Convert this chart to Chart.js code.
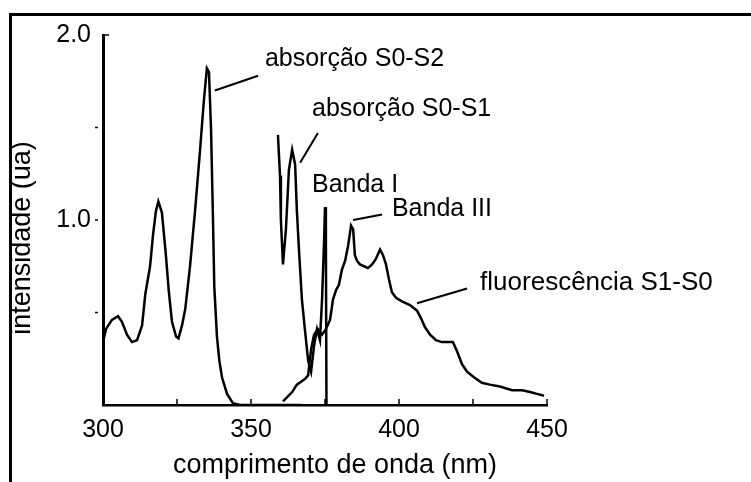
<!DOCTYPE html>
<html>
<head>
<meta charset="utf-8">
<title>Espectro de absorção e fluorescência</title>
<script src="https://cdn.jsdelivr.net/npm/chart.js@4/dist/chart.umd.min.js"></script>
<style>
html, body { margin: 0; padding: 0; background: #fff; }
#chart { display: block; }
</style>
</head>
<body>
<canvas id="chart" width="751" height="482"></canvas>
<script>
// absorção S0-S2 (comprimento de onda em nm, intensidade em ua)
var absS2Wave = [300, 301, 303, 305.1, 306.4, 308.1, 309.8, 311.5, 313.2, 314.3, 315.9, 316.9, 317.9, 318.7, 319.9, 321.2, 322.2, 323.3, 324.7, 325.5, 326.7, 327.8, 329.4, 331.1, 332.8, 334.1, 335.1, 335.8, 336.5, 337.1, 337.6, 338.5, 339.3, 340.2, 341.9, 343.9, 346.3, 367];
var absS2Int = [0.34, 0.41, 0.46, 0.48, 0.45, 0.38, 0.34, 0.35, 0.43, 0.60, 0.75, 0.92, 1.05, 1.10, 1.04, 0.82, 0.62, 0.45, 0.37, 0.36, 0.43, 0.52, 0.75, 1.05, 1.38, 1.65, 1.82, 1.80, 1.49, 1.05, 0.64, 0.37, 0.24, 0.15, 0.06, 0.01, 0, 0];

// absorção S0-S1 (ampliada)
var absS1Wave = [359.1, 359.8, 360.1, 360.8, 361.8, 362.8, 363.9, 364.9, 365.5, 366.2, 367.2, 368.2, 369.3, 370.3, 371.3, 372.3, 373.3, 374.0, 374.7, 375.0, 375.3, 375.5];
var absS1Int = [1.46, 1.24, 1.00, 0.76, 0.95, 1.27, 1.38, 1.30, 1.05, 0.84, 0.57, 0.41, 0.24, 0.18, 0.32, 0.41, 0.35, 0.57, 0.89, 1.07, 0.89, 0];

// fluorescência S1-S0
var fluorWave = [360.8, 363.9, 365.5, 368.2, 369.3, 370.3, 371.3, 372.6, 374.0, 375.3, 376.7, 377.7, 378.7, 379.7, 380.7, 381.8, 382.8, 383.8, 384.5, 385.1, 385.8, 386.8, 388.2, 389.5, 390.9, 392.2, 393.6, 394.6, 395.6, 396.6, 397.6, 399.0, 401.0, 403.7, 406.1, 407.4, 408.8, 410.5, 412.5, 414.5, 416.6, 418.2, 419.6, 421.3, 423.0, 425.3, 428.0, 430.7, 434.1, 438.2, 441.6, 444.3, 446.6, 449.0];
var fluorInt = [0.02, 0.07, 0.11, 0.14, 0.16, 0.30, 0.38, 0.41, 0.38, 0.41, 0.46, 0.57, 0.62, 0.65, 0.73, 0.78, 0.86, 0.97, 0.95, 0.81, 0.78, 0.76, 0.75, 0.74, 0.76, 0.79, 0.84, 0.81, 0.76, 0.68, 0.61, 0.58, 0.56, 0.54, 0.51, 0.47, 0.42, 0.38, 0.35, 0.34, 0.34, 0.34, 0.29, 0.22, 0.18, 0.15, 0.12, 0.11, 0.10, 0.08, 0.08, 0.07, 0.06, 0.05];

var xTickLabels = [300, 350, 400, 450];
var yTickLabels = [1.0, 2.0];
var xMinorTicks = [325, 350, 375, 400, 425, 450];
var yMinorTicks = [0.5, 1.0, 1.5];

var noteTexts = ["absorção S0-S2", "absorção S0-S1", "Banda I", "Banda III", "fluorescência S1-S0"];

var FONT = "'Liberation Sans', Arial, sans-serif";

// where each note sits, in data units (left edge / baseline of the text)
var noteAt = [[354.7, 1.83], [370.6, 1.56], [370.6, 1.15], [397.6, 1.02], [427.4, 0.62]];
// pointer lines from the curve to the note
var pointerFrom = [[337.8, 1.70], [366.6, 1.31], null, [384.5, 1.00], [406.1, 0.55]];
var pointerTo = [[352.4, 1.78], [372.6, 1.47], null, [394.3, 1.03], [423.0, 0.63]];

function toPoints(xs, ys) {
    var pts = [];
    for (var i = 0; i < xs.length; i++) {
        pts.push({x: xs[i], y: ys[i]});
    }
    return pts;
}

function curve(label, xs, ys) {
    return {
        label: label,
        data: toPoints(xs, ys),
        borderColor: "#000",
        borderWidth: 2.5,
        pointRadius: 0,
        tension: 0,
        fill: false
    };
}

// frame, small tick marks, notes and axis titles
var extras = {
    id: "extras",
    afterDraw: function(chart) {
        var ctx = chart.ctx;
        var xs = chart.scales.x;
        var ys = chart.scales.y;
        var i;

        ctx.save();
        ctx.strokeStyle = "#000";
        ctx.fillStyle = "#000";

        // outer frame (top and left only)
        ctx.lineWidth = 3;
        ctx.beginPath();
        ctx.moveTo(10.5, 482);
        ctx.lineTo(10.5, 14.5);
        ctx.lineTo(751, 14.5);
        ctx.stroke();

        // tick marks
        ctx.lineWidth = 1.5;
        ctx.beginPath();
        for (i = 0; i < xMinorTicks.length; i++) {
            var tx = xs.getPixelForValue(xMinorTicks[i]);
            ctx.moveTo(tx, ys.bottom);
            ctx.lineTo(tx, ys.bottom - 6);
        }
        for (i = 0; i < yMinorTicks.length; i++) {
            var ty = ys.getPixelForValue(yMinorTicks[i]);
            ctx.moveTo(xs.left - 8, ty);
            ctx.lineTo(xs.left - 5, ty);
        }
        var topY = ys.getPixelForValue(2.0);
        ctx.moveTo(xs.left, topY);
        ctx.lineTo(xs.left + 6, topY);
        ctx.stroke();

        // pointer lines
        ctx.lineWidth = 2;
        ctx.beginPath();
        for (i = 0; i < pointerFrom.length; i++) {
            if (!pointerFrom[i]) continue;
            ctx.moveTo(xs.getPixelForValue(pointerFrom[i][0]), ys.getPixelForValue(pointerFrom[i][1]));
            ctx.lineTo(xs.getPixelForValue(pointerTo[i][0]), ys.getPixelForValue(pointerTo[i][1]));
        }
        ctx.stroke();

        // notes
        ctx.textAlign = "left";
        ctx.textBaseline = "alphabetic";
        for (i = 0; i < noteTexts.length; i++) {
            ctx.font = (i === 4 ? "26px " : "25px ") + FONT;
            ctx.fillText(noteTexts[i], xs.getPixelForValue(noteAt[i][0]), ys.getPixelForValue(noteAt[i][1]));
        }

        // axis titles
        ctx.font = "27px " + FONT;
        ctx.textAlign = "center";
        ctx.textBaseline = "middle";
        ctx.fillText("comprimento de onda (nm)", 335, 466);
        ctx.translate(23, 238);
        ctx.rotate(-Math.PI / 2);
        ctx.fillText("intensidade (ua)", 0, 0);
        ctx.restore();
    }
};

var chart = new Chart(document.getElementById("chart"), {
    type: "line",
    data: {
        datasets: [
            curve("absorção S0-S2", absS2Wave, absS2Int),
            curve("absorção S0-S1", absS1Wave, absS1Int),
            curve("fluorescência S1-S0", fluorWave, fluorInt)
        ]
    },
    options: {
        responsive: false,
        animation: false,
        devicePixelRatio: 1,
        layout: { padding: { left: 0, right: 204, top: 35, bottom: 0 } },
        plugins: {
            legend: { display: false },
            tooltip: { enabled: false }
        },
        scales: {
            x: {
                type: "linear",
                min: 300,
                max: 450,
                afterFit: function(scale) { scale.height = 77; },
                afterBuildTicks: function(scale) {
                    scale.ticks = xTickLabels.map(function(v) { return {value: v}; });
                },
                grid: { display: false, drawTicks: false },
                border: { display: true, color: "#000", width: 2.5 },
                ticks: {
                    color: "#000",
                    padding: 10,
                    maxRotation: 0,
                    font: { family: FONT, size: 25 },
                    callback: function(v) { return String(v); }
                }
            },
            y: {
                type: "linear",
                min: 0,
                max: 2.0,
                afterFit: function(scale) { scale.width = 103; },
                afterBuildTicks: function(scale) {
                    scale.ticks = yTickLabels.map(function(v) { return {value: v}; });
                },
                grid: { display: false, drawTicks: false },
                border: { display: true, color: "#000", width: 3 },
                ticks: {
                    color: "#000",
                    padding: 12,
                    font: { family: FONT, size: 25 },
                    callback: function(v) { return v.toFixed(1); }
                }
            }
        }
    },
    plugins: [extras]
});
</script>
</body>
</html>
